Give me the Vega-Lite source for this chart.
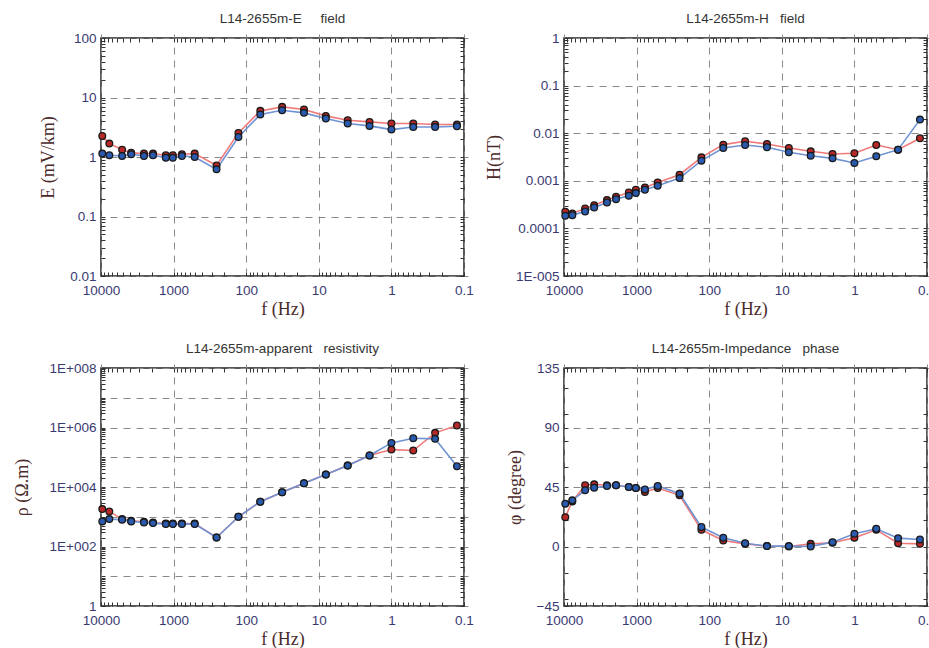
{
  "$schema": "https://vega.github.io/schema/vega-lite/v6.json",
  "background": "white",
  "padding": {"left": 12, "top": 10, "right": 0, "bottom": 0},
  "datasets": {
    "E": [
      {"f":9600,"s":"a","v":2.26},{"f":7680,"s":"a","v":1.68},{"f":5120,"s":"a","v":1.33},{"f":3840,"s":"a","v":1.18},{"f":2560,"s":"a","v":1.14},{"f":1920,"s":"a","v":1.14},{"f":1280,"s":"a","v":1.07},{"f":1024,"s":"a","v":1.07},{"f":768,"s":"a","v":1.11},{"f":512,"s":"a","v":1.14},{"f":256,"s":"a","v":0.72},{"f":128,"s":"a","v":2.54},{"f":64,"s":"a","v":5.96},{"f":32,"s":"a","v":6.96},{"f":16,"s":"a","v":6.28},{"f":8,"s":"a","v":4.91},{"f":4,"s":"a","v":4.15},{"f":2,"s":"a","v":3.89},{"f":1,"s":"a","v":3.65},{"f":0.5,"s":"a","v":3.65},{"f":0.25,"s":"a","v":3.51},{"f":0.125,"s":"a","v":3.51},
      {"f":9600,"s":"b","v":1.14},{"f":7680,"s":"b","v":1.07},{"f":5120,"s":"b","v":1.04},{"f":3840,"s":"b","v":1.11},{"f":2560,"s":"b","v":1.04},{"f":1920,"s":"b","v":1.07},{"f":1280,"s":"b","v":0.97},{"f":1024,"s":"b","v":0.97},{"f":768,"s":"b","v":1.04},{"f":512,"s":"b","v":1.0},{"f":256,"s":"b","v":0.62},{"f":128,"s":"b","v":2.17},{"f":64,"s":"b","v":5.17},{"f":32,"s":"b","v":6.12},{"f":16,"s":"b","v":5.52},{"f":8,"s":"b","v":4.43},{"f":4,"s":"b","v":3.65},{"f":2,"s":"b","v":3.33},{"f":1,"s":"b","v":2.89},{"f":0.5,"s":"b","v":3.2},{"f":0.25,"s":"b","v":3.2},{"f":0.125,"s":"b","v":3.29}
    ],
    "H": [
      {"f":9600,"s":"a","v":0.000223},{"f":7680,"s":"a","v":0.000206},{"f":5120,"s":"a","v":0.000262},{"f":3840,"s":"a","v":0.000308},{"f":2560,"s":"a","v":0.000393},{"f":1920,"s":"a","v":0.000461},{"f":1280,"s":"a","v":0.00057},{"f":1024,"s":"a","v":0.000649},{"f":768,"s":"a","v":0.000726},{"f":512,"s":"a","v":0.000925},{"f":256,"s":"a","v":0.00134},{"f":128,"s":"a","v":0.00311},{"f":64,"s":"a","v":0.00575},{"f":32,"s":"a","v":0.00676},{"f":16,"s":"a","v":0.00594},{"f":8,"s":"a","v":0.0049},{"f":4,"s":"a","v":0.00416},{"f":2,"s":"a","v":0.00366},{"f":1,"s":"a","v":0.00378},{"f":0.5,"s":"a","v":0.00566},{"f":0.25,"s":"a","v":0.00451},{"f":0.125,"s":"a","v":0.00782},
      {"f":9600,"s":"b","v":0.000184},{"f":7680,"s":"b","v":0.00019},{"f":5120,"s":"b","v":0.000227},{"f":3840,"s":"b","v":0.000275},{"f":2560,"s":"b","v":0.000351},{"f":1920,"s":"b","v":0.000412},{"f":1280,"s":"b","v":0.000484},{"f":1024,"s":"b","v":0.000552},{"f":768,"s":"b","v":0.000649},{"f":512,"s":"b","v":0.000787},{"f":256,"s":"b","v":0.00114},{"f":128,"s":"b","v":0.00265},{"f":64,"s":"b","v":0.0049},{"f":32,"s":"b","v":0.00566},{"f":16,"s":"b","v":0.00506},{"f":8,"s":"b","v":0.00397},{"f":4,"s":"b","v":0.00337},{"f":2,"s":"b","v":0.00296},{"f":1,"s":"b","v":0.00236},{"f":0.5,"s":"b","v":0.00327},{"f":0.25,"s":"b","v":0.00451},{"f":0.125,"s":"b","v":0.0193}
    ],
    "R": [
      {"f":9600,"s":"a","v":1810},{"f":7680,"s":"a","v":1510},{"f":5120,"s":"a","v":834},{"f":3840,"s":"a","v":733},{"f":2560,"s":"a","v":678},{"f":1920,"s":"a","v":644},{"f":1280,"s":"a","v":596},{"f":1024,"s":"a","v":596},{"f":768,"s":"a","v":596},{"f":512,"s":"a","v":596},{"f":256,"s":"a","v":201},{"f":128,"s":"a","v":1000},{"f":64,"s":"a","v":3210},{"f":32,"s":"a","v":6610},{"f":16,"s":"a","v":13300},{"f":8,"s":"a","v":26100},{"f":4,"s":"a","v":52400},{"f":2,"s":"a","v":114000},{"f":1,"s":"a","v":181000},{"f":0.5,"s":"a","v":168000},{"f":0.25,"s":"a","v":661000},{"f":0.125,"s":"a","v":1170000},
      {"f":9600,"s":"b","v":697},{"f":7680,"s":"b","v":834},{"f":5120,"s":"b","v":792},{"f":3840,"s":"b","v":697},{"f":2560,"s":"b","v":644},{"f":1920,"s":"b","v":612},{"f":1280,"s":"b","v":566},{"f":1024,"s":"b","v":566},{"f":768,"s":"b","v":566},{"f":512,"s":"b","v":566},{"f":256,"s":"b","v":201},{"f":128,"s":"b","v":1000},{"f":64,"s":"b","v":3210},{"f":32,"s":"b","v":6610},{"f":16,"s":"b","v":13300},{"f":8,"s":"b","v":26100},{"f":4,"s":"b","v":52400},{"f":2,"s":"b","v":114000},{"f":1,"s":"b","v":304000},{"f":0.5,"s":"b","v":437000},{"f":0.25,"s":"b","v":415000},{"f":0.125,"s":"b","v":49800}
    ],
    "P": [
      {"f":9600,"s":"a","v":22.2},{"f":7680,"s":"a","v":34.1},{"f":5120,"s":"a","v":46.3},{"f":3840,"s":"a","v":47.0},{"f":2560,"s":"a","v":46.3},{"f":1920,"s":"a","v":46.3},{"f":1280,"s":"a","v":45},{"f":1024,"s":"a","v":44.2},{"f":768,"s":"a","v":41.2},{"f":512,"s":"a","v":44.2},{"f":256,"s":"a","v":38.7},{"f":128,"s":"a","v":12.6},{"f":64,"s":"a","v":4.6},{"f":32,"s":"a","v":2.0},{"f":16,"s":"a","v":0.3},{"f":8,"s":"a","v":0},{"f":4,"s":"a","v":2.0},{"f":2,"s":"a","v":2.8},{"f":1,"s":"a","v":6.6},{"f":0.5,"s":"a","v":12.6},{"f":0.25,"s":"a","v":2.5},{"f":0.125,"s":"a","v":2.0},
      {"f":9600,"s":"b","v":32.4},{"f":7680,"s":"b","v":34.9},{"f":5120,"s":"b","v":42.5},{"f":3840,"s":"b","v":44.5},{"f":2560,"s":"b","v":45.8},{"f":1920,"s":"b","v":46.3},{"f":1280,"s":"b","v":45},{"f":1024,"s":"b","v":44.2},{"f":768,"s":"b","v":43.2},{"f":512,"s":"b","v":45.8},{"f":256,"s":"b","v":40},{"f":128,"s":"b","v":14.7},{"f":64,"s":"b","v":6.6},{"f":32,"s":"b","v":2.5},{"f":16,"s":"b","v":0.3},{"f":8,"s":"b","v":0.3},{"f":4,"s":"b","v":0},{"f":2,"s":"b","v":3.3},{"f":1,"s":"b","v":9.6},{"f":0.5,"s":"b","v":13.4},{"f":0.25,"s":"b","v":6.3},{"f":0.125,"s":"b","v":5.3}
    ]
  },
  "config": {
    "view": {"stroke": "#222222", "strokeWidth": 1.5},
    "axis": {
      "grid": true, "gridDash": [7, 6], "gridColor": "#8a8a8a", "gridWidth": 1,
      "domain": false, "ticks": true, "tickSize": 4, "offset": -4, "tickColor": "#333333", "tickWidth": 1,
      "labelFont": "Liberation Sans", "labelFontSize": 13.5, "labelColor": "#3a3a72",
      "labelOverlap": false, "labelFlush": false,
      "titleFont": "Liberation Serif", "titleFontSize": 18, "titleFontWeight": "normal", "titleColor": "#4a2a2a"
    },
    "axisX": {"labelPadding": 7, "titlePadding": 4},
    "axisY": {"labelPadding": 5, "titlePadding": 12},
    "title": {"font": "Liberation Sans", "fontSize": 13.5, "fontWeight": "normal", "color": "#333333", "offset": 6},
    "line": {"strokeWidth": 1.6, "interpolate": "linear"},
    "point": {"filled": true, "size": 45, "stroke": "#1a1a1a", "strokeWidth": 1.3, "opacity": 1}
  },
  "columns": 2,
  "bounds": "flush",
  "spacing": {"row": 92, "column": 100},
  "concat": [
    {
      "title": "L14-2655m-E\u00a0\u00a0\u00a0\u00a0 field",
      "width": 363, "height": 238,
      "data": {"name": "E"},
      "layer": [
        {
          "mark": "line",
          "encoding": {
            "x": {"field": "f", "type": "quantitative", "scale": {"type": "log", "domain": [0.1, 10000], "reverse": true, "nice": false},
              "axis": {"values": [0.1,0.2,0.3,0.4,0.5,0.6,0.7,0.8,0.9,1,2,3,4,5,6,7,8,9,10,20,30,40,50,60,70,80,90,100,200,300,400,500,600,700,800,900,1000,2000,3000,4000,5000,6000,7000,8000,9000,10000],
                "labelExpr": "abs(log(datum.value)/LN10 - round(log(datum.value)/LN10)) < 0.001 ? format(datum.value, '~g') : ''",
                "gridOpacity": {"condition": {"test": "abs(log(datum.value)/LN10 - round(log(datum.value)/LN10)) < 0.001", "value": 1}, "value": 0},
                "title": "f (Hz)"}},
            "y": {"field": "v", "type": "quantitative", "scale": {"type": "log", "domain": [0.01, 100], "nice": false},
              "axis": {"values": [0.01,0.02,0.03,0.04,0.05,0.06,0.07,0.08,0.09,0.1,0.2,0.3,0.4,0.5,0.6,0.7,0.8,0.9,1,2,3,4,5,6,7,8,9,10,20,30,40,50,60,70,80,90,100],
                "labelExpr": "abs(log(datum.value)/LN10 - round(log(datum.value)/LN10)) < 0.001 ? format(datum.value, '~g') : ''",
                "gridOpacity": {"condition": {"test": "abs(log(datum.value)/LN10 - round(log(datum.value)/LN10)) < 0.001", "value": 1}, "value": 0},
                "title": "E (mV/km)"}},
            "color": {"field": "s", "type": "nominal", "scale": {"domain": ["a", "b"], "range": ["#f07a7a", "#6f93d3"]}, "legend": null}
          }
        },
        {
          "mark": "point",
          "encoding": {
            "x": {"field": "f", "type": "quantitative", "scale": {"type": "log", "domain": [0.1, 10000], "reverse": true, "nice": false},
              "axis": {"orient": "top", "values": [0.1,0.2,0.3,0.4,0.5,0.6,0.7,0.8,0.9,1,2,3,4,5,6,7,8,9,10,20,30,40,50,60,70,80,90,100,200,300,400,500,600,700,800,900,1000,2000,3000,4000,5000,6000,7000,8000,9000,10000], "labels": false, "grid": false, "title": null}},
            "y": {"field": "v", "type": "quantitative", "scale": {"type": "log", "domain": [0.01, 100], "nice": false},
              "axis": {"orient": "right", "values": [0.01,0.02,0.03,0.04,0.05,0.06,0.07,0.08,0.09,0.1,0.2,0.3,0.4,0.5,0.6,0.7,0.8,0.9,1,2,3,4,5,6,7,8,9,10,20,30,40,50,60,70,80,90,100], "labels": false, "grid": false, "title": null}},
            "fill": {"field": "s", "type": "nominal", "scale": {"domain": ["a", "b"], "range": ["#b82828", "#2a5aae"]}, "legend": null}
          }
        }
      ],
      "resolve": {"axis": {"x": "independent", "y": "independent"}}
    },
    {
      "title": "L14-2655m-H\u00a0\u00a0 field",
      "width": 363, "height": 238,
      "data": {"name": "H"},
      "layer": [
        {
          "mark": "line",
          "encoding": {
            "x": {"field": "f", "type": "quantitative", "scale": {"type": "log", "domain": [0.1, 10000], "reverse": true, "nice": false},
              "axis": {"values": [0.1,0.2,0.3,0.4,0.5,0.6,0.7,0.8,0.9,1,2,3,4,5,6,7,8,9,10,20,30,40,50,60,70,80,90,100,200,300,400,500,600,700,800,900,1000,2000,3000,4000,5000,6000,7000,8000,9000,10000],
                "labelExpr": "abs(log(datum.value)/LN10 - round(log(datum.value)/LN10)) < 0.001 ? format(datum.value, '~g') : ''",
                "gridOpacity": {"condition": {"test": "abs(log(datum.value)/LN10 - round(log(datum.value)/LN10)) < 0.001", "value": 1}, "value": 0},
                "title": "f (Hz)"}},
            "y": {"field": "v", "type": "quantitative", "scale": {"type": "log", "domain": [0.00001, 1], "nice": false},
              "axis": {"values": [0.00001,0.00002,0.00003,0.00004,0.00005,0.00006,0.00007,0.00008,0.00009,0.0001,0.0002,0.0003,0.0004,0.0005,0.0006,0.0007,0.0008,0.0009,0.001,0.002,0.003,0.004,0.005,0.006,0.007,0.008,0.009,0.01,0.02,0.03,0.04,0.05,0.06,0.07,0.08,0.09,0.1,0.2,0.3,0.4,0.5,0.6,0.7,0.8,0.9,1],
                "labelExpr": "abs(log(datum.value)/LN10 - round(log(datum.value)/LN10)) < 0.001 ? (datum.value < 0.00005 ? '1E-005' : format(datum.value, '~g')) : ''",
                "gridOpacity": {"condition": {"test": "abs(log(datum.value)/LN10 - round(log(datum.value)/LN10)) < 0.001", "value": 1}, "value": 0},
                "title": "H(nT)"}},
            "color": {"field": "s", "type": "nominal", "scale": {"domain": ["a", "b"], "range": ["#f07a7a", "#6f93d3"]}, "legend": null}
          }
        },
        {
          "mark": "point",
          "encoding": {
            "x": {"field": "f", "type": "quantitative", "scale": {"type": "log", "domain": [0.1, 10000], "reverse": true, "nice": false},
              "axis": {"orient": "top", "values": [0.1,0.2,0.3,0.4,0.5,0.6,0.7,0.8,0.9,1,2,3,4,5,6,7,8,9,10,20,30,40,50,60,70,80,90,100,200,300,400,500,600,700,800,900,1000,2000,3000,4000,5000,6000,7000,8000,9000,10000], "labels": false, "grid": false, "title": null}},
            "y": {"field": "v", "type": "quantitative", "scale": {"type": "log", "domain": [0.00001, 1], "nice": false},
              "axis": {"orient": "right", "values": [0.00001,0.00002,0.00003,0.00004,0.00005,0.00006,0.00007,0.00008,0.00009,0.0001,0.0002,0.0003,0.0004,0.0005,0.0006,0.0007,0.0008,0.0009,0.001,0.002,0.003,0.004,0.005,0.006,0.007,0.008,0.009,0.01,0.02,0.03,0.04,0.05,0.06,0.07,0.08,0.09,0.1,0.2,0.3,0.4,0.5,0.6,0.7,0.8,0.9,1], "labels": false, "grid": false, "title": null}},
            "fill": {"field": "s", "type": "nominal", "scale": {"domain": ["a", "b"], "range": ["#b82828", "#2a5aae"]}, "legend": null}
          }
        }
      ],
      "resolve": {"axis": {"x": "independent", "y": "independent"}}
    },
    {
      "title": "L14-2655m-apparent\u00a0\u00a0 resistivity",
      "width": 363, "height": 238,
      "data": {"name": "R"},
      "layer": [
        {
          "mark": "line",
          "encoding": {
            "x": {"field": "f", "type": "quantitative", "scale": {"type": "log", "domain": [0.1, 10000], "reverse": true, "nice": false},
              "axis": {"values": [0.1,0.2,0.3,0.4,0.5,0.6,0.7,0.8,0.9,1,2,3,4,5,6,7,8,9,10,20,30,40,50,60,70,80,90,100,200,300,400,500,600,700,800,900,1000,2000,3000,4000,5000,6000,7000,8000,9000,10000],
                "labelExpr": "abs(log(datum.value)/LN10 - round(log(datum.value)/LN10)) < 0.001 ? format(datum.value, '~g') : ''",
                "gridOpacity": {"condition": {"test": "abs(log(datum.value)/LN10 - round(log(datum.value)/LN10)) < 0.001", "value": 1}, "value": 0},
                "title": "f (Hz)"}},
            "y": {"field": "v", "type": "quantitative", "scale": {"type": "log", "domain": [1, 100000000], "nice": false},
              "axis": {"values": [1,2,3,4,5,6,7,8,9,10,20,30,40,50,60,70,80,90,100,200,300,400,500,600,700,800,900,1000,2000,3000,4000,5000,6000,7000,8000,9000,10000,20000,30000,40000,50000,60000,70000,80000,90000,100000,200000,300000,400000,500000,600000,700000,800000,900000,1000000,2000000,3000000,4000000,5000000,6000000,7000000,8000000,9000000,10000000,20000000,30000000,40000000,50000000,60000000,70000000,80000000,90000000,100000000],
                "labelExpr": "abs(log(datum.value)/LN10 - round(log(datum.value)/LN10)) >= 0.001 ? '' : (datum.value < 5 ? '1' : (round(log(datum.value)/LN10) % 2 == 0 ? '1E+00' + round(log(datum.value)/LN10) : ''))",
                "gridOpacity": {"condition": {"test": "abs(log(datum.value)/LN10 - round(log(datum.value)/LN10)) < 0.001", "value": 1}, "value": 0},
                "title": "ρ (Ω.m)", "titlePadding": 18}},
            "color": {"field": "s", "type": "nominal", "scale": {"domain": ["a", "b"], "range": ["#f07a7a", "#6f93d3"]}, "legend": null}
          }
        },
        {
          "mark": "point",
          "encoding": {
            "x": {"field": "f", "type": "quantitative", "scale": {"type": "log", "domain": [0.1, 10000], "reverse": true, "nice": false},
              "axis": {"orient": "top", "values": [0.1,0.2,0.3,0.4,0.5,0.6,0.7,0.8,0.9,1,2,3,4,5,6,7,8,9,10,20,30,40,50,60,70,80,90,100,200,300,400,500,600,700,800,900,1000,2000,3000,4000,5000,6000,7000,8000,9000,10000], "labels": false, "grid": false, "title": null}},
            "y": {"field": "v", "type": "quantitative", "scale": {"type": "log", "domain": [1, 100000000], "nice": false},
              "axis": {"orient": "right", "values": [1,2,3,4,5,6,7,8,9,10,20,30,40,50,60,70,80,90,100,200,300,400,500,600,700,800,900,1000,2000,3000,4000,5000,6000,7000,8000,9000,10000,20000,30000,40000,50000,60000,70000,80000,90000,100000,200000,300000,400000,500000,600000,700000,800000,900000,1000000,2000000,3000000,4000000,5000000,6000000,7000000,8000000,9000000,10000000,20000000,30000000,40000000,50000000,60000000,70000000,80000000,90000000,100000000], "labels": false, "grid": false, "title": null}},
            "fill": {"field": "s", "type": "nominal", "scale": {"domain": ["a", "b"], "range": ["#b82828", "#2a5aae"]}, "legend": null}
          }
        }
      ],
      "resolve": {"axis": {"x": "independent", "y": "independent"}}
    },
    {
      "title": "L14-2655m-Impedance\u00a0\u00a0 phase",
      "width": 363, "height": 238,
      "data": {"name": "P"},
      "layer": [
        {
          "mark": "line",
          "encoding": {
            "x": {"field": "f", "type": "quantitative", "scale": {"type": "log", "domain": [0.1, 10000], "reverse": true, "nice": false},
              "axis": {"values": [0.1,0.2,0.3,0.4,0.5,0.6,0.7,0.8,0.9,1,2,3,4,5,6,7,8,9,10,20,30,40,50,60,70,80,90,100,200,300,400,500,600,700,800,900,1000,2000,3000,4000,5000,6000,7000,8000,9000,10000],
                "labelExpr": "abs(log(datum.value)/LN10 - round(log(datum.value)/LN10)) < 0.001 ? format(datum.value, '~g') : ''",
                "gridOpacity": {"condition": {"test": "abs(log(datum.value)/LN10 - round(log(datum.value)/LN10)) < 0.001", "value": 1}, "value": 0},
                "title": "f (Hz)"}},
            "y": {"field": "v", "type": "quantitative", "scale": {"domain": [-45, 135], "nice": false, "zero": false},
              "axis": {"values": [-45, -40, -20, 0, 20, 40, 45, 60, 80, 90, 100, 120, 135],
                "labelExpr": "datum.value % 45 == 0 ? format(datum.value, 'd') : ''",
                "gridOpacity": {"condition": {"test": "datum.value % 45 == 0", "value": 1}, "value": 0},
                "title": "φ (degree)"}},
            "color": {"field": "s", "type": "nominal", "scale": {"domain": ["a", "b"], "range": ["#f07a7a", "#6f93d3"]}, "legend": null}
          }
        },
        {
          "mark": "point",
          "encoding": {
            "x": {"field": "f", "type": "quantitative", "scale": {"type": "log", "domain": [0.1, 10000], "reverse": true, "nice": false},
              "axis": {"orient": "top", "values": [0.1,0.2,0.3,0.4,0.5,0.6,0.7,0.8,0.9,1,2,3,4,5,6,7,8,9,10,20,30,40,50,60,70,80,90,100,200,300,400,500,600,700,800,900,1000,2000,3000,4000,5000,6000,7000,8000,9000,10000], "labels": false, "grid": false, "title": null}},
            "y": {"field": "v", "type": "quantitative", "scale": {"domain": [-45, 135], "nice": false, "zero": false},
              "axis": {"orient": "right", "values": [-45, -40, -20, 0, 20, 40, 45, 60, 80, 90, 100, 120, 135], "labels": false, "grid": false, "title": null}},
            "fill": {"field": "s", "type": "nominal", "scale": {"domain": ["a", "b"], "range": ["#b82828", "#2a5aae"]}, "legend": null}
          }
        }
      ],
      "resolve": {"axis": {"x": "independent", "y": "independent"}}
    }
  ]
}
